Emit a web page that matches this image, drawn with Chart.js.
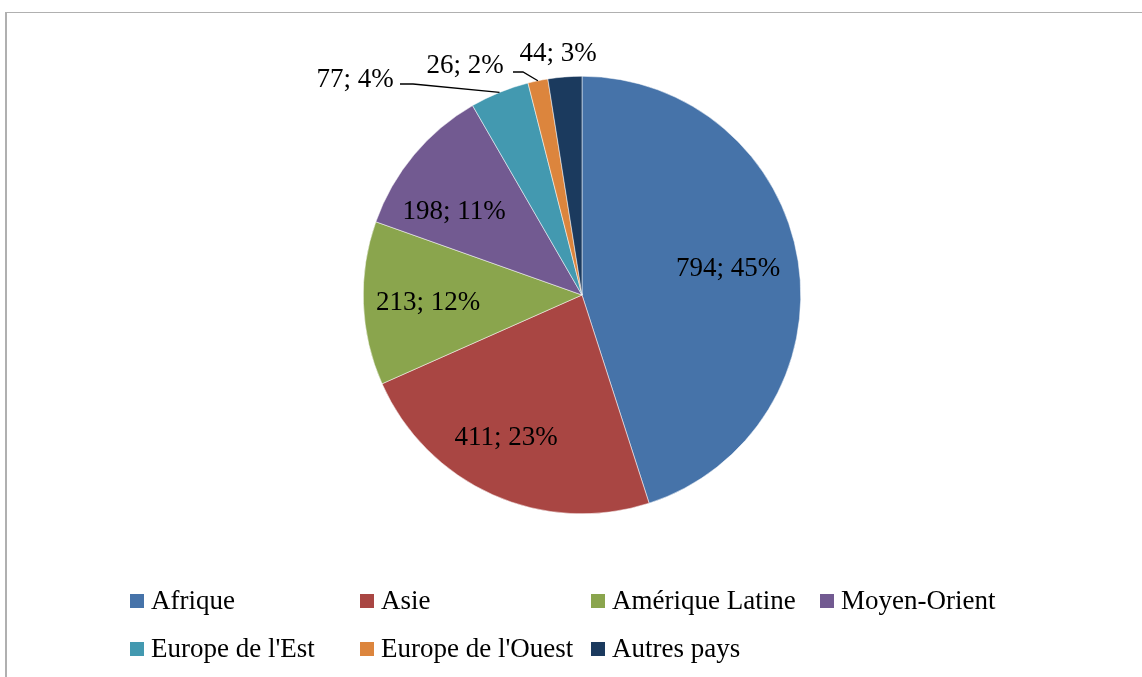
<!DOCTYPE html>
<html>
<head>
<meta charset="utf-8">
<script src="https://cdn.jsdelivr.net/npm/chart.js@4.4.1/dist/chart.umd.min.js"></script>
<style>
  html, body { margin: 0; padding: 0; background: #ffffff; overflow: hidden; }
  #frame { position: absolute; left: 5px; top: 12px; width: 1200px; height: 700px;
           border-left: 2px solid #b0b0b0; border-top: 1px solid #b0b0b0; box-sizing: border-box; }
  #wrap { position: absolute; left: 0; top: 0; width: 1142px; height: 677px; }
  .lg-item { position: absolute; font-family: "Liberation Serif", serif; font-size: 27px;
             line-height: 27px; color: #000; white-space: nowrap; }
  .lg-box { position: absolute; width: 14px; height: 14px; }
</style>
</head>
<body>
<div id="frame"></div>
<div id="wrap"><canvas id="c" width="1142" height="677"></canvas></div>
<div id="legend"></div>
<script>
// ---- data ----
const categories = ["Afrique", "Asie", "Amérique Latine", "Moyen-Orient", "Europe de l'Est", "Europe de l'Ouest", "Autres pays"];
const values = [794, 411, 213, 198, 77, 26, 44];
const percents = [45, 23, 12, 11, 4, 2, 3];
const colors = ["#4673A9", "#A94643", "#8AA54D", "#725A91", "#4399B0", "#DC853D", "#1B3A5E"];

// ---- layout (label placement relative to pie centre) ----
const labelOffsets = [[146, -19], [-76, 150], [-154, 15], [-128, -76], [-227, -208], [-117, -222], [-24, -234]]; // [dx centre, dy baseline]
const leaderLines = { 4: [[-182, -211], [-169, -211]], 5: [[-69, -223], [-59, -223]] };
const legendCols = [130, 360, 591, 820];
const legendRows = [610, 658];

const labelPlugin = {
  id: 'pieLabels',
  afterDatasetsDraw(chart) {
    const ctx = chart.ctx;
    const meta = chart.getDatasetMeta(0);
    ctx.save();
    ctx.font = '27px "Liberation Serif", serif';
    ctx.fillStyle = '#000';
    ctx.textAlign = 'center';
    ctx.textBaseline = 'alphabetic';
    meta.data.forEach((arc, i) => {
      const p = arc.getProps(['x', 'y', 'startAngle', 'endAngle', 'outerRadius'], true);
      const cx = p.x, cy = p.y;
      const off = labelOffsets[i];
      ctx.fillText(values[i] + '; ' + percents[i] + '%', cx + off[0], cy + off[1]);
      if (leaderLines[i]) {
        const mid = (p.startAngle + p.endAngle) / 2;
        const ex = cx + Math.cos(mid) * p.outerRadius;
        const ey = cy + Math.sin(mid) * p.outerRadius;
        const pts = leaderLines[i];
        ctx.beginPath();
        ctx.strokeStyle = '#000';
        ctx.lineWidth = 1.3;
        ctx.moveTo(cx + pts[0][0], cy + pts[0][1]);
        ctx.lineTo(cx + pts[1][0], cy + pts[1][1]);
        ctx.lineTo(ex, ey);
        ctx.stroke();
      }
    });
    ctx.restore();
  }
};

new Chart(document.getElementById('c'), {
  type: 'pie',
  data: {
    labels: categories,
    datasets: [{ data: values, backgroundColor: colors, borderColor: '#ffffff', borderWidth: 0.5 }]
  },
  options: {
    responsive: false,
    animation: false,
    events: [],
    layout: { padding: { left: 22, right: 0, top: 76, bottom: 163 } },
    plugins: { legend: { display: false }, tooltip: { enabled: false } }
  },
  plugins: [labelPlugin]
});

// ---- legend ----
const lg = document.getElementById('legend');
categories.forEach((name, i) => {
  const col = i % 4, row = Math.floor(i / 4);
  const x = legendCols[col], base = legendRows[row];
  const box = document.createElement('div');
  box.className = 'lg-box';
  box.style.left = x + 'px';
  box.style.top = (base - 16) + 'px';
  box.style.background = colors[i];
  lg.appendChild(box);
  const t = document.createElement('div');
  t.className = 'lg-item';
  t.style.left = (x + 21) + 'px';
  t.style.top = (base - 22.6) + 'px';
  t.textContent = name;
  lg.appendChild(t);
});
</script>
</body>
</html>
